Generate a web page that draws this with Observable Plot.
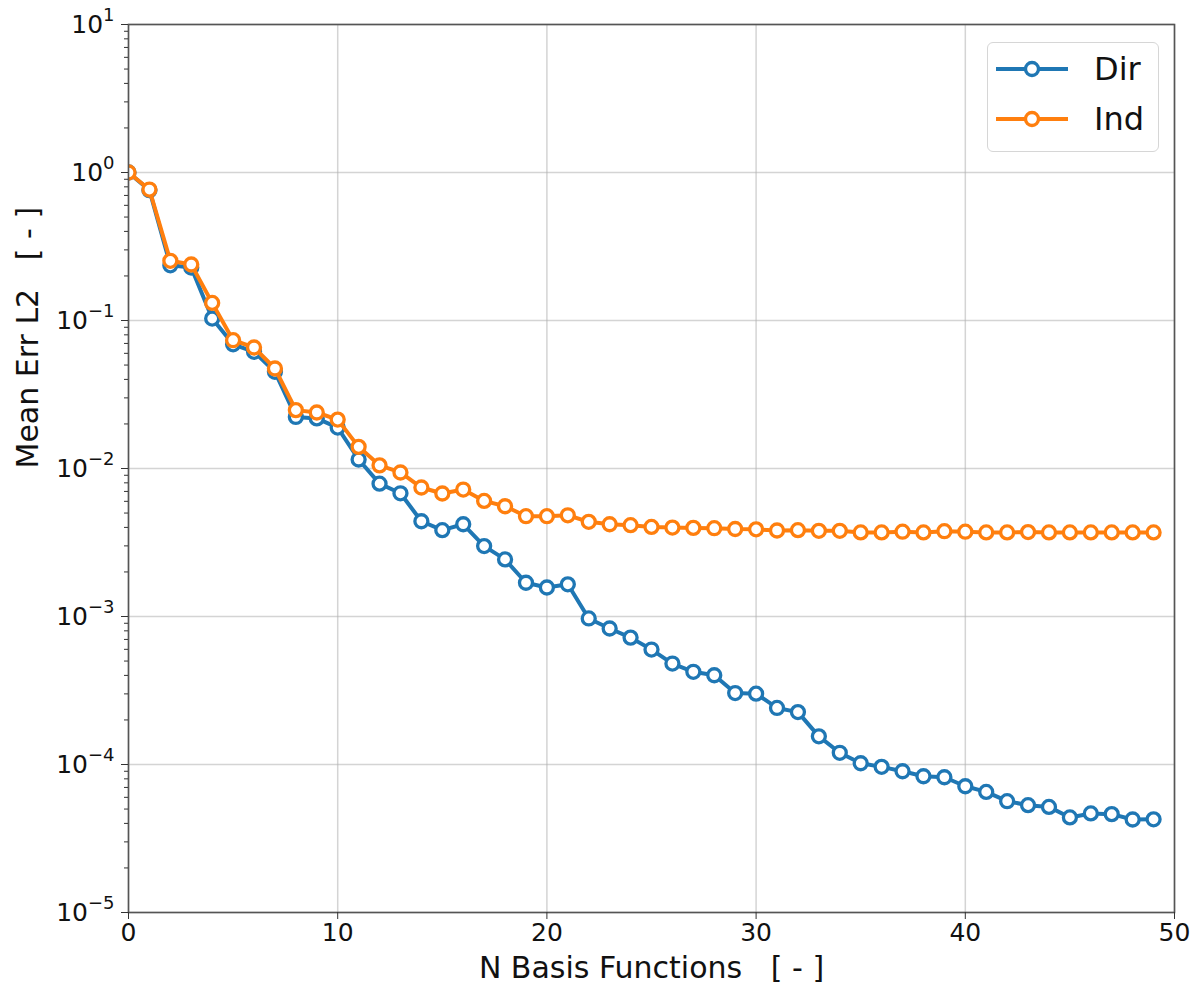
<!DOCTYPE html>
<html><head><meta charset="utf-8">
<script src="https://cdn.jsdelivr.net/npm/d3@7"></script>
<script src="https://cdn.jsdelivr.net/npm/@observablehq/plot@0.6"></script>
<style>
html,body{margin:0;padding:0;background:#fff;}
#wrap{position:relative;width:1194px;height:989px;font-family:"DejaVu Sans",sans-serif;}
#legend{position:absolute;left:987px;top:42px;width:172px;height:110px;border:1.5px solid #d6d6d6;border-radius:6px;background:rgba(255,255,255,0.85);box-sizing:border-box;}
.item{position:absolute;left:6px;height:40px;display:flex;align-items:center;}
.item span{font-size:32px;color:#111;margin-left:24px;line-height:40px;}
</style></head><body><div id="wrap"></div>
<script>
const nBasis = [0,1,2,3,4,5,6,7,8,9,10,11,12,13,14,15,16,17,18,19,20,21,22,23,24,25,26,27,28,29,30,31,32,33,34,35,36,37,38,39,40,41,42,43,44,45,46,47,48,49];
const dirErr = [1.0,0.76,0.236,0.228,0.103,0.069,0.0614,0.045,0.0223,0.0218,0.0189,0.0115,0.0079,0.0068,0.0044,0.00383,0.0042,0.00299,0.00243,0.00169,0.00157,0.00165,0.00097,0.00083,0.00072,0.000598,0.000481,0.000423,0.000401,0.000304,0.000301,0.000241,0.000226,0.000155,0.00012,0.000102,0.0000964,0.00009,0.0000833,0.000082,0.0000713,0.0000653,0.0000565,0.0000531,0.0000517,0.0000439,0.0000467,0.0000462,0.0000425,0.0000426];
const indErr = [1.0,0.767,0.253,0.239,0.1315,0.0736,0.0657,0.0474,0.0248,0.0239,0.0214,0.0140,0.0105,0.0094,0.00744,0.00678,0.00721,0.00604,0.00556,0.00476,0.00476,0.00483,0.00436,0.0042,0.00414,0.00403,0.00399,0.00397,0.00395,0.0039,0.00388,0.00381,0.00383,0.00379,0.00379,0.0037,0.0037,0.00374,0.0037,0.00377,0.00374,0.0037,0.0037,0.00372,0.0037,0.0037,0.0037,0.0037,0.0037,0.0037];
const seriesNames = ["Dir","Ind"];
const seriesColors = ["#1f77b4","#ff7f0e"];
const xTicks = [0,10,20,30,40,50];
const yTicks = [1e-5,1e-4,1e-3,1e-2,1e-1,1e0,1e1];
const yExps = ["−5","−4","−3","−2","−1","0","1"];
const xLabel = "N Basis Functions\u00a0\u00a0\u00a0[ - ]";
const yLabel = "Mean Err L2\u00a0\u00a0\u00a0[ - ]";

const minorTicks = [];
for (let e = -5; e < 1; e++) for (let m = 2; m <= 9; m++) minorTicks.push(m * Math.pow(10, e));

const dirRows = nBasis.map((n, i) => ({n, err: dirErr[i]}));
const indRows = nBasis.map((n, i) => ({n, err: indErr[i]}));

const gridStyle = {stroke: "#b0b0b0", strokeOpacity: 0.55, strokeWidth: 1.5};

const chart = Plot.plot({
  width: 1194, height: 989,
  marginLeft: 128, marginRight: 20, marginTop: 24, marginBottom: 77,
  style: {fontFamily: "DejaVu Sans, sans-serif", fontSize: "25px", color: "#111", background: "white"},
  x: {domain: [0, 50]},
  y: {type: "log", domain: [1e-5, 10]},
  marks: [
    Plot.gridX({ticks: xTicks, ...gridStyle}),
    Plot.gridY({ticks: yTicks, ...gridStyle}),
    Plot.line(dirRows, {x: "n", y: "err", stroke: seriesColors[0], strokeWidth: 4, clip: true}),
    Plot.dot(dirRows, {x: "n", y: "err", r: 6.5, stroke: seriesColors[0], strokeWidth: 3.3, fill: "white", clip: true}),
    Plot.line(indRows, {x: "n", y: "err", stroke: seriesColors[1], strokeWidth: 4, clip: true}),
    Plot.dot(indRows, {x: "n", y: "err", r: 6.5, stroke: seriesColors[1], strokeWidth: 3.3, fill: "white", clip: true}),
    Plot.frame({stroke: "#555", strokeWidth: 1.6}),
    Plot.axisX({ticks: xTicks, tickSize: 7, tickPadding: 4, fontSize: 25, label: null, stroke: "#333"}),
    Plot.axisY({ticks: yTicks, tickSize: 7, tickPadding: 7, fontSize: 25, label: null, stroke: "#333",
      tickFormat: d => "10^" + yExps[yTicks.indexOf(d)]}),
    Plot.axisY({ticks: minorTicks, tickSize: 4, tickFormat: () => "", label: null, stroke: "#333", strokeWidth: 1}),
    Plot.text([xLabel], {frameAnchor: "bottom", dy: 56, fontSize: 30, lineAnchor: "middle", fill: "#111"}),
    Plot.text([yLabel], {frameAnchor: "left", dx: -100, rotate: -90, fontSize: 30, lineAnchor: "middle", fill: "#111"})
  ]
});

// matplotlib-style superscripts on the log tick labels
chart.querySelectorAll('g[aria-label="y-axis tick label"] text').forEach(t => {
  const s = t.textContent;
  if (!s.includes("^")) return;
  const [base, exp] = s.split("^");
  t.textContent = "";
  const ns = "http://www.w3.org/2000/svg";
  const b = document.createElementNS(ns, "tspan"); b.textContent = base; t.appendChild(b);
  const e = document.createElementNS(ns, "tspan"); e.textContent = exp;
  e.setAttribute("dy", "-12"); e.setAttribute("font-size", "18"); t.appendChild(e);
});

const wrap = document.getElementById("wrap");
wrap.appendChild(chart);

const legend = document.createElement("div");
legend.id = "legend";
seriesNames.forEach((name, i) => {
  const item = document.createElement("div");
  item.className = "item";
  item.style.top = (6 + i * 50) + "px";
  item.innerHTML = `<svg width="76" height="20"><line x1="2" y1="10" x2="74" y2="10" stroke="${seriesColors[i]}" stroke-width="4"/><circle cx="38" cy="10" r="6.5" fill="white" stroke="${seriesColors[i]}" stroke-width="3.3"/></svg><span>${name}</span>`;
  legend.appendChild(item);
});
wrap.appendChild(legend);
</script>
</body></html>
